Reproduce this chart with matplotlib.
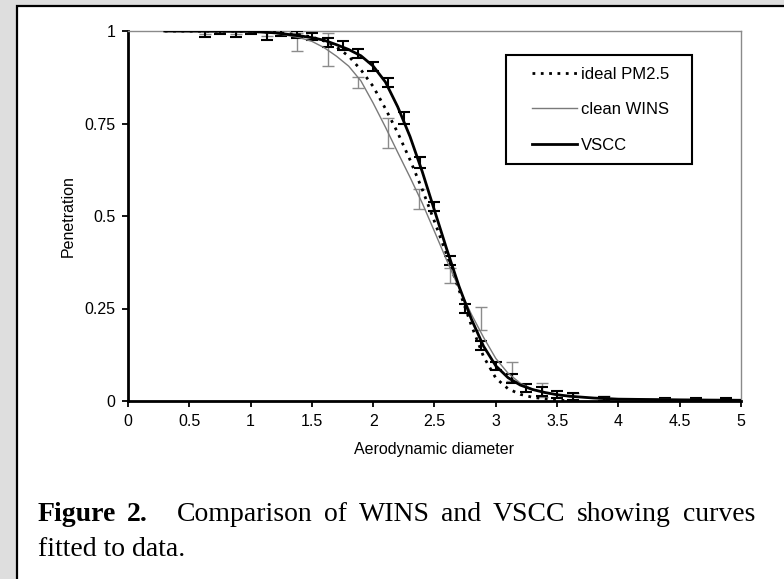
import matplotlib
matplotlib.use("Agg")
import matplotlib.pyplot as plt
from matplotlib.lines import Line2D
from matplotlib.legend_handler import HandlerLine2D
from matplotlib.patches import Rectangle

W, H = 784, 579

# fitted curves
d_fit = [0.3, 1.0, 1.2, 1.4, 1.5, 1.6, 1.7, 1.8, 1.9, 2.0, 2.1, 2.2, 2.3, 2.4, 2.5,
         2.6, 2.7, 2.8, 2.9, 3.0, 3.1, 3.2, 3.3, 3.4, 3.5, 3.6, 3.8, 4.0, 4.5, 5.0]
vscc_fit = [1.0, 0.999, 0.995, 0.987, 0.982, 0.975, 0.963, 0.95, 0.933, 0.905, 0.862,
            0.795, 0.715, 0.62, 0.515, 0.41, 0.31, 0.222, 0.148, 0.095, 0.063, 0.043,
            0.031, 0.023, 0.017, 0.013, 0.008, 0.005, 0.003, 0.002]
wins_fit = [1.0, 0.998, 0.994, 0.982, 0.972, 0.955, 0.932, 0.905, 0.865, 0.805, 0.74,
            0.672, 0.605, 0.535, 0.458, 0.38, 0.305, 0.235, 0.172, 0.115, 0.075, 0.048,
            0.032, 0.022, 0.016, 0.012, 0.008, 0.006, 0.004, 0.003]

d_ideal = [0.3, 1.0, 1.2, 1.4, 1.5, 1.6, 1.7, 1.8, 1.9, 2.0, 2.1, 2.2, 2.3, 2.4, 2.5,
           2.6, 2.7, 2.8, 2.9, 3.0, 3.1, 3.2, 3.3, 3.4, 3.5, 3.6]
ideal_pm25 = [1.0, 0.999, 0.996, 0.99, 0.984, 0.973, 0.957, 0.932, 0.895, 0.85, 0.79,
              0.725, 0.652, 0.572, 0.485, 0.395, 0.3, 0.205, 0.12, 0.062, 0.033, 0.018,
              0.01, 0.006, 0.003, 0.0]

# measured points with error bars
d_vscc = [0.63, 0.75, 0.88, 1.0, 1.13, 1.25, 1.38, 1.5, 1.63, 1.75, 1.88, 2.0, 2.12,
          2.25, 2.38, 2.5, 2.63, 2.75, 2.88, 3.0, 3.13, 3.25, 3.38, 3.5, 3.63, 3.88,
          4.38, 4.63, 4.88]
p_vscc = [0.995, 0.997, 0.995, 0.997, 0.992, 0.995, 0.99, 0.985, 0.97, 0.96, 0.94,
          0.905, 0.86, 0.765, 0.645, 0.525, 0.38, 0.25, 0.15, 0.095, 0.06, 0.035,
          0.025, 0.018, 0.012, 0.006, 0.004, 0.004, 0.004]
err_vscc = [0.01, 0.006, 0.01, 0.006, 0.015, 0.008, 0.01, 0.01, 0.012, 0.012, 0.012,
            0.012, 0.012, 0.015, 0.015, 0.012, 0.012, 0.012, 0.012, 0.01, 0.012,
            0.012, 0.012, 0.01, 0.01, 0.005, 0.003, 0.003, 0.003]

d_wins = [0.63, 0.88, 1.13, 1.38, 1.63, 1.88, 2.12, 2.37, 2.63, 2.88, 3.13, 3.38,
          3.63, 3.88]
p_wins = [0.997, 0.997, 0.995, 0.97, 0.95, 0.86, 0.725, 0.545, 0.34, 0.223, 0.08,
          0.03, 0.012, 0.008]
err_wins = [0.005, 0.005, 0.008, 0.025, 0.045, 0.015, 0.04, 0.027, 0.02, 0.03, 0.025,
            0.02, 0.01, 0.005]

x_ticks = [0, 0.5, 1, 1.5, 2, 2.5, 3, 3.5, 4, 4.5, 5]
x_labels = ["0", "0.5", "1", "1.5", "2", "2.5", "3", "3.5", "4", "4.5", "5"]
y_ticks = [0, 0.25, 0.5, 0.75, 1]
y_labels = ["0", "0.25", "0.5", "0.75", "1"]

plt.rcParams["font.family"] = ["Liberation Sans", "DejaVu Sans"]

fig = plt.figure(figsize=(W / 100, H / 100), dpi=100, facecolor="#dedede")

# white panel with black frame, behind everything
fig.patches.append(Rectangle((17 / W, -0.05), 1.2, (H - 6) / H + 0.05,
                             transform=fig.transFigure, facecolor="white",
                             edgecolor="black", lw=1.6, zorder=-10))

ax = fig.add_axes([128 / W, 1 - 401 / H, (741 - 128) / W, (401 - 31) / H])
ax.set_zorder(5)
ax.set_facecolor("white")

ax.errorbar(d_wins, p_wins, yerr=err_wins, fmt="none", ecolor="#8c8c8c",
            elinewidth=1.0, capsize=4, capthick=1.0, zorder=2)
ax.errorbar(d_vscc, p_vscc, yerr=err_vscc, fmt="none", ecolor="black",
            elinewidth=1.5, capsize=4, capthick=1.5, zorder=3)

ax.plot(d_ideal, ideal_pm25, color="black", lw=2.0, linestyle=(0, (1, 2)),
        label="ideal PM2.5", zorder=4)
ax.plot(d_fit, wins_fit, color="#7a7a7a", lw=1.0, label="clean WINS", zorder=4)
ax.plot(d_fit, vscc_fit, color="black", lw=2.0, label="VSCC", zorder=5)

ax.set_xlim(0, 5)
ax.set_ylim(0, 1)
ax.set_xticks(x_ticks, x_labels)
ax.set_yticks(y_ticks, y_labels)
ax.tick_params(direction="out", length=4, width=1.3, labelsize=11.5, pad=5)

for s in ["left", "bottom"]:
    ax.spines[s].set_linewidth(2.0)
    ax.spines[s].set_color("black")
for s in ["top", "right"]:
    ax.spines[s].set_linewidth(1.0)
    ax.spines[s].set_color("#8a8a8a")

ax.set_xlabel("Aerodynamic diameter", fontsize=11.5, labelpad=10)
ax.set_ylabel("Penetration", fontsize=11.5, labelpad=6)

leg = ax.legend(loc="upper left",
                bbox_to_anchor=(506 / W, 1 - 178 / H, 186 / W, 123 / H),
                bbox_transform=fig.transFigure, mode="expand", borderaxespad=0,
                fontsize=12, borderpad=0.7, labelspacing=1.23, handlelength=3.56,
                handletextpad=0.25, fancybox=False, framealpha=1,
                handler_map={Line2D: HandlerLine2D(xpad=0.86)})
leg.get_frame().set_edgecolor("black")
leg.get_frame().set_linewidth(1.5)

# caption, justified across the panel
serif = ["Liberation Serif", "DejaVu Serif"]
fig.text(38 / W, 1 - 521 / H, "Figure", fontsize=20, fontweight="bold",
         family=serif, va="baseline")
fig.text(127 / W, 1 - 521 / H, "2.", fontsize=20, fontweight="bold",
         family=serif, va="baseline")
words = "Comparison of WINS and VSCC showing curves".split()
items = [fig.text(0, 1 - 521 / H, w, fontsize=20, family=serif, va="baseline")
         for w in words]
fig.canvas.draw()
r = fig.canvas.get_renderer()
widths = [t.get_window_extent(r).width for t in items]
x0, x1 = 177, 755
gap = (x1 - x0 - sum(widths)) / (len(words) - 1)
x = x0
for t, w in zip(items, widths):
    t.set_x(x / W)
    x += w + gap
fig.text(38 / W, 1 - 556 / H, "fitted to data.", fontsize=20, family=serif,
         va="baseline")

fig.savefig("out.png", dpi=100, facecolor=fig.get_facecolor())
